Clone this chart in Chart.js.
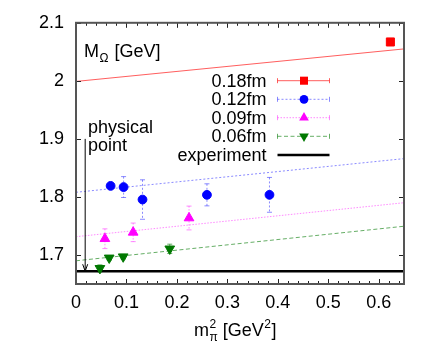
<!DOCTYPE html>
<html>
<head>
<meta charset="utf-8">
<script src="https://cdn.jsdelivr.net/npm/chart.js@4.4.1/dist/chart.umd.min.js"></script>
<style>
  html, body { margin: 0; padding: 0; background: #fff; }
  #omegaChart { display: block; }
</style>
</head>
<body>
<canvas id="omegaChart" width="436" height="359"></canvas>
<script>
// tick labels
const xTicks = [0, 0.1, 0.2, 0.3, 0.4, 0.5, 0.6];
const yTicks = [1.7, 1.8, 1.9, 2.0, 2.1];

// m_pi^2 [GeV^2], M_Omega [GeV] and its error, one set per lattice spacing
const mpi018 = [0.623];
const mom018 = [2.067];
const err018 = [0];

const mpi012 = [0.0686, 0.0943, 0.1318, 0.2595, 0.3834];
const mom012 = [1.819, 1.817, 1.7955, 1.8036, 1.8036];
const err012 = [0.004, 0.018, 0.034, 0.019, 0.030];

const mpi009 = [0.0573, 0.1133, 0.224];
const mom009 = [1.728, 1.739, 1.7637];
const err009 = [0.017, 0.016, 0.0205];

const mpi006 = [0.0474, 0.0658, 0.0935, 0.1858];
const mom006 = [1.677, 1.695, 1.697, 1.7106];
const err006 = [0.006, 0.004, 0.004, 0.008];

// linear fits, evaluated at both ends of the x range
const fitX = [0, 0.65];
const fit018 = [1.999, 2.055];
const fit012 = [1.808, 1.866];
const fit009 = [1.7315, 1.790];
const fit006 = [1.690, 1.7495];

// experimental Omega mass and the physical pion mass squared
const experimentX = [0, 0.65];
const experimentY = [1.672, 1.672];
const physicalPoint = 0.0182;
const arrowTop = 1.9;

const FONT = '"Liberation Sans", Arial, Helvetica, sans-serif';
Chart.defaults.font.family = FONT;

const series = [
    { label: "0.18fm", x: mpi018, y: mom018, err: err018, fit: fit018,
      color: "#ff0000", light: "rgba(255,40,40,0.75)", dash: [], style: "rect", radius: 5.7, rotation: 0 },
    { label: "0.12fm", x: mpi012, y: mom012, err: err012, fit: fit012,
      color: "#0000ff", light: "rgba(60,60,255,0.6)", dash: [2, 2], style: "circle", radius: 4.4, rotation: 0 },
    { label: "0.09fm", x: mpi009, y: mom009, err: err009, fit: fit009,
      color: "#ff00ff", light: "rgba(255,60,255,0.6)", dash: [1.5, 1.5], style: "triangle", radius: 5.6, rotation: 0 },
    { label: "0.06fm", x: mpi006, y: mom006, err: err006, fit: fit006,
      color: "#007800", light: "rgba(20,130,20,0.65)", dash: [4, 2.5], style: "triangle", radius: 5.6, rotation: 180 }
];

const datasets = [];
series.forEach(s => {
    datasets.push({
        type: "line",
        data: fitX.map((x, i) => ({ x: x, y: s.fit[i] })),
        borderColor: s.light,
        borderWidth: 1,
        borderDash: s.dash,
        pointRadius: 0,
        fill: false,
        order: 2
    });
});
datasets.push({
    type: "line",
    data: experimentX.map((x, i) => ({ x: x, y: experimentY[i] })),
    borderColor: "#000",
    borderWidth: 2.5,
    pointRadius: 0,
    fill: false,
    order: 1
});
series.forEach(s => {
    datasets.push({
        type: "scatter",
        label: s.label,
        data: s.x.map((x, i) => ({ x: x, y: s.y[i] })),
        errors: s.err,
        errColor: s.light,
        errDash: s.dash,
        pointStyle: s.style,
        pointRadius: s.radius,
        pointRotation: s.rotation,
        backgroundColor: s.color,
        borderColor: s.color,
        borderWidth: 1,
        order: 0
    });
});

function drawMarker(ctx, s, x, y) {
    ctx.save();
    ctx.fillStyle = s.color;
    ctx.beginPath();
    if (s.style === "rect") {
        const h = s.radius / Math.SQRT2;
        ctx.rect(x - h, y - h, 2 * h, 2 * h);
    } else if (s.style === "circle") {
        ctx.arc(x, y, s.radius, 0, Math.PI * 2);
    } else {
        let rad = s.rotation * Math.PI / 180;
        for (let k = 0; k < 3; k++) {
            const px = x + Math.sin(rad) * s.radius;
            const py = y - Math.cos(rad) * s.radius;
            if (k === 0) ctx.moveTo(px, py); else ctx.lineTo(px, py);
            rad += 2 * Math.PI / 3;
        }
        ctx.closePath();
    }
    ctx.fill();
    ctx.restore();
}

const errorBars = {
    id: "errorBars",
    beforeDatasetsDraw(chart) {
        const ctx = chart.ctx;
        const ys = chart.scales.y;
        const area = chart.chartArea;
        ctx.save();
        ctx.beginPath();
        ctx.rect(area.left, area.top, area.right - area.left, area.bottom - area.top);
        ctx.clip();
        chart.data.datasets.forEach((ds, i) => {
            if (!ds.errors) return;
            const meta = chart.getDatasetMeta(i);
            ctx.strokeStyle = ds.errColor;
            ctx.lineWidth = 1;
            ds.data.forEach((p, j) => {
                const e = ds.errors[j];
                if (!e) return;
                const px = meta.data[j].x;
                const top = ys.getPixelForValue(p.y + e);
                const bot = ys.getPixelForValue(p.y - e);
                ctx.setLineDash(ds.errDash);
                ctx.beginPath();
                ctx.moveTo(px, top);
                ctx.lineTo(px, bot);
                ctx.stroke();
                ctx.setLineDash([]);
                ctx.beginPath();
                ctx.moveTo(px - 2.5, top); ctx.lineTo(px + 2.5, top);
                ctx.moveTo(px - 2.5, bot); ctx.lineTo(px + 2.5, bot);
                ctx.stroke();
            });
        });
        ctx.restore();
    }
};

const decorations = {
    id: "decorations",
    afterDraw(chart) {
        const ctx = chart.ctx;
        const xs = chart.scales.x;
        const ys = chart.scales.y;
        const a = chart.chartArea;
        ctx.save();

        // ticks on all four sides, pointing inwards
        ctx.strokeStyle = "#222";
        ctx.lineWidth = 1;
        ctx.beginPath();
        for (let k = 0; k <= 32; k++) {
            const v = k * 0.02;
            const px = Math.round(xs.getPixelForValue(v)) + 0.5;
            const len = (k % 5 === 0) ? 5 : 3;
            ctx.moveTo(px, a.bottom); ctx.lineTo(px, a.bottom - len);
            ctx.moveTo(px, a.top); ctx.lineTo(px, a.top + len);
        }
        yTicks.forEach(v => {
            const py = Math.round(ys.getPixelForValue(v)) + 0.5;
            ctx.moveTo(a.left, py); ctx.lineTo(a.left + 5, py);
            ctx.moveTo(a.right, py); ctx.lineTo(a.right - 5, py);
        });
        ctx.stroke();

        // frame
        ctx.strokeStyle = "#555";
        ctx.lineWidth = 2;
        ctx.strokeRect(a.left, a.top, a.right - a.left, a.bottom - a.top);

        // physical point arrow
        const ax = xs.getPixelForValue(physicalPoint);
        const aTop = ys.getPixelForValue(arrowTop);
        const aBot = ys.getPixelForValue(experimentY[0]);
        ctx.strokeStyle = "#000";
        ctx.lineWidth = 1;
        ctx.beginPath();
        ctx.moveTo(ax, aTop); ctx.lineTo(ax, aBot);
        ctx.moveTo(ax - 2.5, aBot - 7); ctx.lineTo(ax, aBot); ctx.lineTo(ax + 2.5, aBot - 7);
        ctx.stroke();

        // texts inside the frame
        ctx.fillStyle = "#000";
        ctx.textBaseline = "alphabetic";
        ctx.textAlign = "left";
        ctx.font = "18px " + FONT;
        ctx.fillText("physical", 88, 133);
        ctx.fillText("point", 88, 150.5);

        ctx.fillText("M", 84, 57);
        let mx = 84 + ctx.measureText("M").width;
        ctx.font = "12px " + FONT;
        ctx.fillText("\u03A9", mx + 0.5, 62);
        mx += 0.5 + ctx.measureText("\u03A9").width;
        ctx.font = "18px " + FONT;
        ctx.fillText(" [GeV]", mx + 1, 57);

        // legend
        const rows = [80.7, 99.3, 117.7, 136.3, 155];
        const lx0 = 277.5, lx1 = 329.5, lmx = 304;
        ctx.textAlign = "right";
        ctx.textBaseline = "middle";
        series.forEach((s, i) => {
            const y = rows[i];
            ctx.fillStyle = "#000";
            ctx.font = "18px " + FONT;
            ctx.fillText(s.label, 266.5, y + 1);
            ctx.strokeStyle = s.light;
            ctx.lineWidth = 1;
            ctx.setLineDash(s.dash);
            ctx.beginPath();
            ctx.moveTo(lx0, y); ctx.lineTo(lx1, y);
            ctx.stroke();
            ctx.setLineDash([]);
            ctx.beginPath();
            ctx.moveTo(lx0, y - 2.5); ctx.lineTo(lx0, y + 2.5);
            ctx.moveTo(lx1, y - 2.5); ctx.lineTo(lx1, y + 2.5);
            ctx.stroke();
            drawMarker(ctx, s, lmx, y);
        });
        ctx.fillStyle = "#000";
        ctx.fillText("experiment", 266.5, rows[4] + 1);
        ctx.strokeStyle = "#000";
        ctx.lineWidth = 2.5;
        ctx.beginPath();
        ctx.moveTo(lx0, rows[4]); ctx.lineTo(lx1, rows[4]);
        ctx.stroke();

        // x axis title: m_pi^2 [GeV^2]
        ctx.textAlign = "left";
        ctx.textBaseline = "alphabetic";
        const base = 336;
        let tx = 194;
        ctx.font = "18px " + FONT;
        ctx.fillText("m", tx, base);
        tx += ctx.measureText("m").width + 0.5;
        ctx.font = "12px " + FONT;
        ctx.fillText("2", tx, base - 8);
        ctx.fillText("\u03C0", tx, base + 5);
        tx += Math.max(ctx.measureText("2").width, ctx.measureText("\u03C0").width);
        ctx.font = "18px " + FONT;
        ctx.fillText(" [GeV", tx, base);
        tx += ctx.measureText(" [GeV").width + 0.5;
        ctx.font = "12px " + FONT;
        ctx.fillText("2", tx, base - 8);
        tx += ctx.measureText("2").width + 0.5;
        ctx.font = "18px " + FONT;
        ctx.fillText("]", tx, base);

        ctx.restore();
    }
};

new Chart(document.getElementById("omegaChart").getContext("2d"), {
    type: "scatter",
    data: { datasets: datasets },
    options: {
        responsive: false,
        animation: false,
        layout: { padding: { top: 22, right: 32, left: 0, bottom: 0 } },
        plugins: { legend: { display: false }, tooltip: { enabled: false } },
        scales: {
            x: {
                type: "linear",
                min: 0,
                max: 0.65,
                afterBuildTicks: s => { s.ticks = xTicks.map(v => ({ value: v })); },
                afterFit: s => { s.height = 75; },
                grid: { display: false, drawTicks: false },
                border: { display: false },
                ticks: {
                    color: "#000",
                    font: { size: 18 },
                    padding: 8,
                    maxRotation: 0,
                    autoSkip: false,
                    callback: v => String(+v.toFixed(2))
                }
            },
            y: {
                type: "linear",
                min: 1.65,
                max: 2.1,
                afterBuildTicks: s => { s.ticks = yTicks.map(v => ({ value: v })); },
                afterFit: s => { s.width = 76; },
                grid: { display: false, drawTicks: false },
                border: { display: false },
                ticks: {
                    color: "#000",
                    font: { size: 18 },
                    padding: 12,
                    autoSkip: false,
                    callback: v => String(+v.toFixed(2))
                }
            }
        }
    },
    plugins: [errorBars, decorations]
});
</script>
</body>
</html>
